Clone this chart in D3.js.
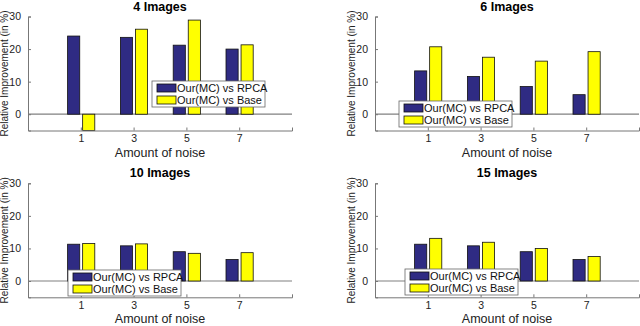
<!DOCTYPE html>
<html>
<head>
<meta charset="utf-8">
<script src="https://cdn.jsdelivr.net/npm/d3@7"></script>
<style>
  body { margin: 0; background: #fff; }
  text { font-family: "Liberation Sans", Arial, sans-serif; }
</style>
</head>
<body>
<svg id="chart" width="640" height="326"></svg>
<script>
const noise = [1, 3, 5, 7];
const titles = ["4 Images", "6 Images", "10 Images", "15 Images"];
const seriesNames = ["Our(MC) vs RPCA", "Our(MC) vs Base"];

// values, one array per panel
const rpca4 = [24.0, 23.6, 21.2, 20.0];
const base4 = [-5.0, 26.1, 28.9, 21.3];
const rpca6 = [13.3, 11.6, 8.5, 6.0];
const base6 = [20.7, 17.5, 16.3, 19.2];
const rpca10 = [11.3, 10.8, 9.0, 6.6];
const base10 = [11.5, 11.4, 8.5, 8.7];
const rpca15 = [11.3, 10.8, 9.0, 6.6];
const base15 = [13.1, 11.9, 10.0, 7.5];

const yTicks = [0, 10, 20, 30];

const colors = ["#2f2b83", "#ffff00"];

const svg = d3.select("#chart");

const panels = [
    { x0: 28, y0: 16.5, rpca: rpca4, base: base4, legend: [152, 81] },
    { x0: 375, y0: 16.5, rpca: rpca6, base: base6, legend: [399, 101] },
    { x0: 28, y0: 183.3, rpca: rpca10, base: base10, legend: [68, 270] },
    { x0: 375, y0: 183.3, rpca: rpca15, base: base15, legend: [405, 269] }
];

const plotW = 264;
const plotH = 114;

function drawPanel(p, idx) {
    const g = svg.append("g");

    const x = d3.scaleLinear().domain([-1, 9]).range([p.x0, p.x0 + plotW]);
    const y = d3.scaleLinear().domain([-5, 30]).range([p.y0 + plotH, p.y0]);

    // zero line
    g.append("line")
        .attr("x1", x(-1)).attr("x2", x(9))
        .attr("y1", y(0)).attr("y2", y(0))
        .attr("stroke", "#808080").attr("stroke-width", 1.2);

    // bars
    const barW = x(0.46) - x(0);
    const offsets = [-0.27, 0.3];
    [p.rpca, p.base].forEach(function (vals, s) {
        g.selectAll(null)
            .data(vals)
            .enter()
            .append("rect")
            .attr("x", (d, i) => x(noise[i] + offsets[s]) - barW / 2)
            .attr("y", d => y(Math.max(0, d)))
            .attr("width", barW)
            .attr("height", d => Math.abs(y(d) - y(0)))
            .attr("fill", colors[s])
            .attr("stroke", "#111")
            .attr("stroke-width", 0.8);
    });

    // axes
    const yAxis = d3.axisLeft(y).tickValues(yTicks).tickSize(-3).tickPadding(7);
    g.append("g")
        .attr("transform", `translate(${p.x0},0)`)
        .call(yAxis)
        .call(a => a.select(".domain").attr("stroke", "#777"))
        .call(a => a.selectAll(".tick line").attr("stroke", "#777"))
        .call(a => a.selectAll("text").attr("font-size", "10.5px").attr("fill", "#222").style("font-family", "Liberation Sans, Arial, sans-serif"));

    const xAxis = d3.axisBottom(x).tickValues(noise).tickSize(-3).tickPadding(4);
    g.append("g")
        .attr("transform", `translate(0,${y(-5)})`)
        .call(xAxis)
        .call(a => a.select(".domain").attr("stroke", "#777"))
        .call(a => a.selectAll(".tick line").attr("stroke", "#777"))
        .call(a => a.selectAll("text").attr("font-size", "10.5px").attr("fill", "#222").style("font-family", "Liberation Sans, Arial, sans-serif"));

    // title
    g.append("text")
        .attr("x", x(4))
        .attr("y", p.y0 - 6)
        .attr("text-anchor", "middle")
        .attr("font-size", "12.5px")
        .attr("font-weight", "bold")
        .text(titles[idx]);

    // x label
    g.append("text")
        .attr("x", x(4))
        .attr("y", y(-5) + 26)
        .attr("text-anchor", "middle")
        .attr("font-size", "12.5px")
        .attr("fill", "#222")
        .text("Amount of noise");

    // y label
    g.append("text")
        .attr("transform", `translate(${p.x0 - 20},${(y(30) + y(-5)) / 2}) rotate(-90)`)
        .attr("text-anchor", "middle")
        .attr("font-size", "10px")
        .attr("fill", "#222")
        .text("Relative Improvement (in %)");

    // legend
    const lg = g.append("g").attr("transform", `translate(${p.legend[0]},${p.legend[1]})`);
    lg.append("rect")
        .attr("width", 113).attr("height", 26)
        .attr("fill", "#fff").attr("stroke", "#666").attr("stroke-width", 0.8);
    seriesNames.forEach(function (name, s) {
        lg.append("rect")
            .attr("x", 5).attr("y", 3 + s * 12)
            .attr("width", 19).attr("height", 8)
            .attr("fill", colors[s]).attr("stroke", "#111").attr("stroke-width", 0.8);
        lg.append("text")
            .attr("x", 25).attr("y", 11 + s * 12)
            .attr("font-size", "11px")
            .attr("fill", "#111")
            .text(name);
    });
}

panels.forEach(drawPanel);
</script>
</body>
</html>
